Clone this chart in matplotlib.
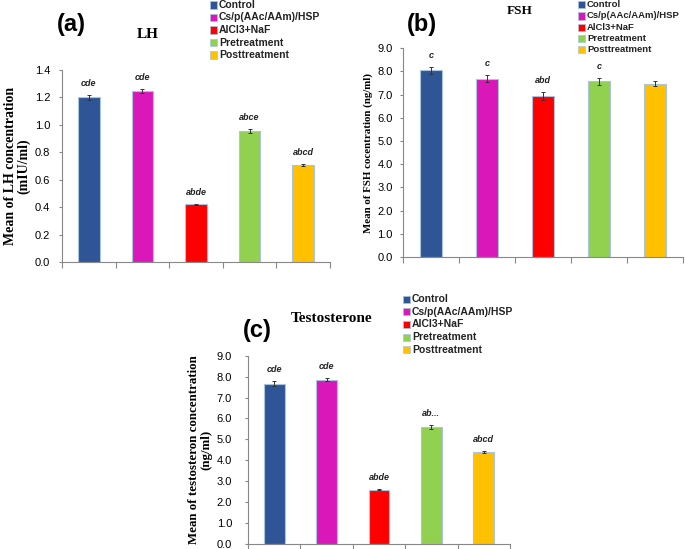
import numpy as np
import matplotlib.pyplot as plt
from matplotlib.patches import Rectangle

groups = ['Control', 'Cs/p(AAc/AAm)/HSP', 'AlCl3+NaF', 'Pretreatment', 'Posttreatment']
colors = ['#2F5597', '#DA18B9', '#FF0000', '#92D050', '#FFC000']

lh_mean = [1.20, 1.25, 0.42, 0.955, 0.705]
lh_err = [0.02, 0.015, 0.006, 0.012, 0.008]
lh_sig = ['cde', 'cde', 'abde', 'abce', 'abcd']

fsh_mean = [8.05, 7.68, 6.95, 7.58, 7.48]
fsh_err = [0.16, 0.15, 0.17, 0.15, 0.10]
fsh_sig = ['c', 'c', 'abd', 'c', '']

tes_mean = [7.66, 7.85, 2.60, 5.60, 4.40]
tes_err = [0.11, 0.08, 0.03, 0.08, 0.04]
tes_sig = ['cde', 'cde', 'abde', 'ab...', 'abcd']

sans = 'Liberation Sans'
serif = 'Liberation Serif'
W, H = 685, 549

fig = plt.figure(figsize=(6.85, 5.49), dpi=100)


def panel(rect, means, errs, sigs, ymax, ystep, ylabel, ylsize, tickpad):
    ax = fig.add_axes(rect)
    x = np.arange(len(means))
    ax.bar(x, means, width=0.4, color=colors, edgecolor='#A9C4DC', linewidth=0.8,
           yerr=errs, capsize=1.5, error_kw=dict(ecolor='#333333', elinewidth=0.7, capthick=0.7))
    for xi, m, e, s in zip(x, means, errs, sigs):
        ax.annotate(s, (xi, m + e), xytext=(0, 5), textcoords='offset points',
                    ha='center', va='bottom', fontsize=6.5, fontstyle='italic',
                    fontweight='bold', family=sans, color='#222222')
    ticks = np.arange(0, ymax + ystep / 2, ystep)
    ax.set_xlim(-0.5, len(means) - 0.5)
    ax.set_ylim(0, ymax)
    ax.set_yticks(ticks)
    ax.set_yticklabels([f'{v:.1f}' for v in ticks], family=sans, fontsize=8)
    ax.set_xticks(np.arange(-0.5, len(means), 1.0))
    ax.set_xticklabels([])
    ax.tick_params(axis='x', length=4, color='#888888')
    ax.tick_params(axis='y', length=2.5, color='#888888', pad=tickpad)
    for sp in ['top', 'right']:
        ax.spines[sp].set_visible(False)
    for sp in ['left', 'bottom']:
        ax.spines[sp].set_color('#888888')
        ax.spines[sp].set_linewidth(0.8)
    ax.set_ylabel(ylabel, family=serif, fontweight='bold', fontsize=ylsize,
                  labelpad=3, linespacing=1.0)
    return ax


def legend_at(x0, y0, dy, fs):
    # square swatches + bold labels, positioned in pixel coords
    for i, (g, c) in enumerate(zip(groups, colors)):
        y = y0 + i * dy
        fig.patches.append(Rectangle(((x0) / W, 1 - (y + 3.5) / H), 7 / W, 7 / H,
                                     transform=fig.transFigure, facecolor=c,
                                     edgecolor='#A9C4DC', linewidth=0.5))
        fig.text((x0 + 9) / W, 1 - y / H, g, fontsize=fs, va='center', ha='left',
                 family=sans, fontweight='bold', color='#222222')


axa = panel([62 / W, 1 - 262 / H, 268 / W, 192 / H], lh_mean, lh_err, lh_sig,
            1.4, 0.2, 'Mean of LH concentration\n(mIU/ml)', 10, 6)
axb = panel([403 / W, 1 - 257 / H, 280 / W, 208.7 / H], fsh_mean, fsh_err, fsh_sig,
            9.0, 1.0, 'Mean of FSH cocentration (ng/ml)', 7.8, 5)
axc = panel([248 / W, 1 - 544 / H, 262 / W, 188.3 / H], tes_mean, tes_err, tes_sig,
            9.0, 1.0, 'Mean of testosteron concentration\n(ng/ml)', 9.3, 9)

# panel letters
fig.text(57 / W, 1 - 25 / H, '(a)', fontsize=17, fontweight='bold', family=sans, va='center')
fig.text(407 / W, 1 - 25 / H, '(b)', fontsize=17, fontweight='bold', family=sans, va='center')
fig.text(243 / W, 1 - 330 / H, '(c)', fontsize=17, fontweight='bold', family=sans, va='center')

# titles
fig.text(148 / W, 1 - 35 / H, 'LH', fontsize=11, fontweight='bold', family=serif,
         ha='center', va='center')
fig.text(520 / W, 1 - 11 / H, 'FSH', fontsize=9.5, fontweight='bold', family=serif,
         ha='center', va='center')
fig.text(332 / W, 1 - 318 / H, 'Testosterone', fontsize=11, fontweight='bold', family=serif,
         ha='center', va='center')

legend_at(210, 5, 12.5, 7.5)
legend_at(578, 4.7, 11.3, 6.8)
legend_at(403, 299, 12.7, 7.5)

fig.savefig('out.png', dpi=100)
